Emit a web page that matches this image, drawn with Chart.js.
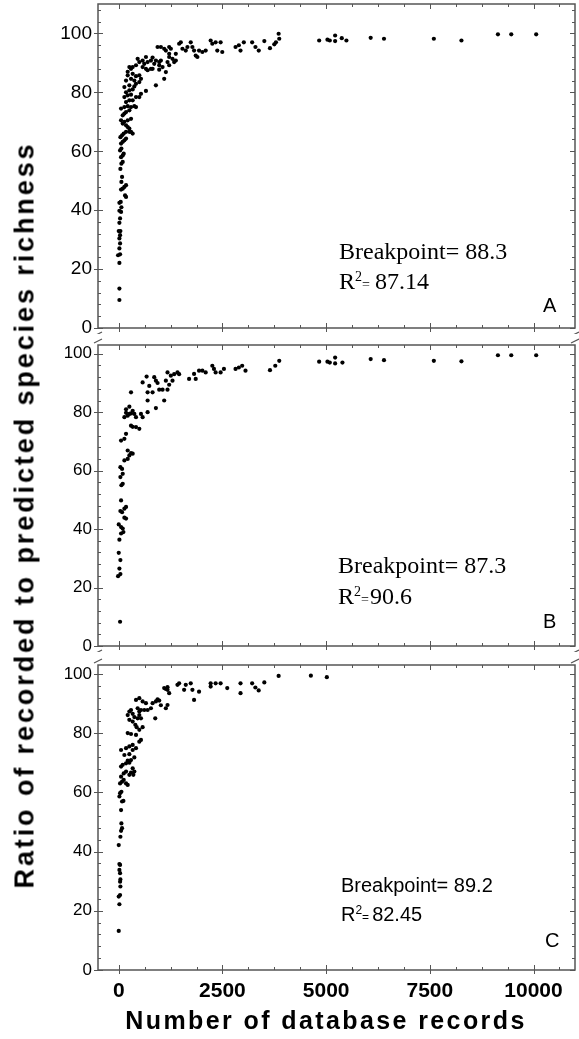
<!DOCTYPE html>
<html>
<head>
<meta charset="utf-8">
<script src="https://cdn.jsdelivr.net/npm/chart.js@4.4.0/dist/chart.umd.min.js"></script>
<style>
  body { margin: 0; background: #fff; }
  #wrap { position: relative; width: 579px; height: 1039px; overflow: hidden; }
  #wrap canvas { position: absolute; left: 0; }
  #ytitle {
    position: absolute; left: 25px; top: 515px;
    transform: translate(-50%, -50%) rotate(-90deg);
    white-space: nowrap; font: bold 27px "Liberation Sans", Arial, sans-serif;
    letter-spacing: 2.9px;
  }
  #xtitle {
    position: absolute; left: 326px; top: 1020px;
    transform: translate(-50%, -50%);
    white-space: nowrap; font: bold 25px "Liberation Sans", Arial, sans-serif;
    letter-spacing: 2.4px;
  }
</style>
</head>
<body>
<div id="wrap">
  <canvas id="chartA" width="579" height="334" style="top:0"></canvas>
  <canvas id="chartB" width="579" height="316" style="top:336px"></canvas>
  <canvas id="chartC" width="579" height="383" style="top:656px"></canvas>
  <div id="ytitle">Ratio of recorded to predicted species richness</div>
  <div id="xtitle">Number of database records</div>
</div>
<script>
// Panel A
const recordsA = [16,16,16,-16,32,16,32,16,32,0,40,16,32,56,16,64,16,48,176,152,136,176,56,96,64,80,40,64,96,56,96,120,32,64,56,96,136,176,40,80,120,176,256,296,336,256,216,176,96,136,56,216,296,96,136,176,256,56,136,216,296,376,416,176,256,336,136,216,296,416,496,176,256,336,536,656,136,256,376,416,496,176,296,376,536,216,336,496,416,216,296,256,336,696,816,976,1056,896,1136,1096,456,576,656,776,816,896,496,616,696,856,976,1016,416,576,656,776,976,1216,936,1016,1096,1136,1216,1256,1216,1216,1296,1336,1376,1176,1376,1456,1496,1536,1616,1656,1736,1776,1816,1856,1896,1936,2016,2096,2216,2256,2336,2376,2456,2496,2816,2896,2936,3016,3216,3296,3376,3510,3646,3750,3790,3855,3870,4832,5032,5088,5217,5217,5377,5489,6074,6395,7597,8262,9142,9463,10064];
const ratioA = [9.5,13.4,22.1,24.7,25,27,28.7,30.4,31.5,32.9,32.9,35.7,37.2,39.4,39.8,41,42.5,42.8,44.5,45,47.9,48.5,47,47.3,49.6,51.3,54,55.8,56.4,58,58.6,59.2,60.3,60.9,62.6,63.2,63.7,64.3,64.8,65.4,66,66.6,66.6,66.6,66,67.7,68.2,68.8,69.4,70,70.5,70.5,71,72.2,72.8,73.3,73.9,74.5,75,75.3,75,75.3,75,76.7,77.3,77.3,78.4,79,79.2,78.4,78.4,80,80.7,81,79.5,80.5,81.8,82.4,82,82.9,83.5,84,84.6,84,84.6,85.8,86.3,85.8,85.5,87,88,88.6,88.6,87.5,88,87.7,88.6,82.4,86.9,84.6,91.4,90.8,92,90.8,91.8,90.8,90.3,89.7,90.3,89.7,90.3,90.8,89.2,88.6,88,88,89.2,89.2,95.4,95.4,94.8,94.2,95.4,94.8,93.1,92,91.4,90.3,90.8,90.3,93.1,96.5,97,94.8,94.2,95.4,97,95.4,94.2,92.5,92,94.2,93.7,94.2,97.6,96.5,97,94.2,97,93.7,95.4,96,94.2,97,97,95.4,94.2,97.4,95,96.3,97,99.9,98.2,97.6,97.9,97.6,99.3,97.4,98.4,97.6,98.5,98.2,98.2,97.6,99.7,99.7,99.7];

// Panel B
const recordsB = [32,-16,40,16,40,0,16,56,112,0,56,96,80,40,136,176,176,136,56,64,96,40,96,80,40,136,216,256,296,216,336,56,136,176,136,216,256,296,176,376,176,256,336,416,576,536,296,336,416,496,296,576,672,696,696,736,816,856,896,896,936,976,1056,1096,1136,1176,1216,1176,1256,1296,1336,1416,1456,696,1696,1816,1856,1936,2016,2096,2256,2296,2336,2456,2536,2816,2896,2976,3056,3646,3774,3870,4832,5032,5088,5217,5217,5393,6074,6395,7597,8262,9142,9463,10064];
const ratioB = [8.3,23.9,24.6,26.5,29.4,31.9,36.4,38.5,39,41.6,40.7,40.2,45.8,46.2,47,47.6,43.6,43.9,49.8,55,55.5,57.8,58.9,60.6,61.2,63.5,64,65.2,66,66.9,65.8,70.3,70.9,72.6,78.3,78.8,79.4,79.6,79.8,79.4,81,81.9,80.5,78.3,78.3,79.4,75.4,75,74.9,74.3,86.8,90.2,92.2,86.8,84,89,86.8,92,90.8,81.4,90,87.7,87.7,84,90.8,87.7,89.4,93.6,92.5,90.8,93,93.6,93,80,91.4,93.1,91.4,94.2,94.2,93.6,95.9,94.8,93.6,93.6,94.8,94.8,95.3,95.9,94.2,94.4,95.9,97.6,97.3,97.3,97,98.7,96.7,97,98.2,97.8,97.6,97.4,99.5,99.5,99.5];

// Panel C
const recordsC = [0,16,0,32,40,32,40,32,16,16,32,0,40,56,80,64,56,80,112,16,32,64,32,80,120,176,216,56,120,176,256,296,352,376,336,56,96,176,256,216,296,376,136,256,336,416,56,176,496,536,336,256,216,296,416,496,432,400,576,336,256,376,456,496,536,336,216,256,296,456,496,536,416,496,576,656,616,696,776,816,896,936,976,880,1016,1096,1176,1136,1176,1136,1176,1216,1416,1456,1576,1616,1736,1776,1816,1936,2216,2216,2336,2456,2616,2936,2936,3216,3294,3374,3510,3855,4632,5017];
const ratioC = [13.2,22.2,24.8,25.3,28.2,29.8,30.6,32.7,33.8,35.8,35.5,42.2,45,47,47.9,49.5,54,56.9,57.1,58.6,59.7,60.2,63,63.6,64.2,63,62.5,65.3,66.4,67,65.9,66.7,65.9,67,68.1,68.7,69.3,69.8,70,70.7,70.9,71.8,72.6,72.9,74.3,74.9,74.3,74.9,77.1,77.7,76,75.5,80,79.7,79.4,81.1,82,82.8,82,83.9,84.5,85.4,85,86.1,85,86.5,86.1,87.3,87.8,88.4,87.3,87.8,91.2,91.8,90.7,90.1,87.8,87.8,88.4,90.1,90.7,91.4,91,85,89.4,95.2,95.5,94.9,94.6,88.4,89.5,93.5,96.3,96.8,94.6,96.3,96.8,94.6,91.2,94,96.8,95.7,96.8,96.8,95.2,96.8,93.5,96.8,95.4,94.4,97.1,99.3,99.4,98.9];

const xTicks = [0, 2500, 5000, 7500, 10000];
const yTicks = [0, 20, 40, 60, 80, 100];

const SANS = '"Liberation Sans", Arial, sans-serif';
const SERIF = '"Liberation Serif", "Times New Roman", serif';
const FRAME = '#555';

function line(ctx, x1, y1, x2, y2) {
  ctx.beginPath(); ctx.moveTo(x1, y1); ctx.lineTo(x2, y2); ctx.stroke();
}

// frame, inward ticks on all four sides, axis breaks, panel notes
const axesFrame = {
  id: 'axesFrame',
  afterDraw(chart, args, o) {
    const { ctx, chartArea: a, scales: { x, y } } = chart;
    ctx.save();
    ctx.strokeStyle = FRAME;
    ctx.lineWidth = 1.5;
    ctx.strokeRect(a.left, a.top, a.right - a.left, a.bottom - a.top);
    ctx.lineWidth = 1;
    for (let v = 0; v <= x.max; v += 625) {
      const px = Math.round(x.getPixelForValue(v)) + 0.5;
      const major = xTicks.includes(v);
      const len = major ? 5 : 3;
      line(ctx, px, a.bottom, px, a.bottom - len);
      line(ctx, px, a.top, px, a.top + len);
      if (major) line(ctx, px, a.bottom, px, a.bottom + 4);
    }
    for (let v = 0; v <= y.max; v += 4) {
      const py = Math.round(y.getPixelForValue(v)) + 0.5;
      const major = yTicks.includes(v);
      const len = major ? 5 : 3;
      line(ctx, a.left, py, a.left + len, py);
      line(ctx, a.right, py, a.right - len, py);
      if (major) line(ctx, a.left, py, a.left - 4, py);
    }
    // axis break marks
    ctx.lineWidth = 1.2;
    [a.left, a.right].forEach(ex => {
      if (o.breakBottom) line(ctx, ex - 4, a.bottom + 8, ex + 4, a.bottom + 4);
      if (o.breakTop) line(ctx, ex - 4, a.top - 2, ex + 4, a.top - 6);
    });
    // annotations
    ctx.fillStyle = '#000';
    ctx.textBaseline = 'alphabetic';
    const n = o.note;
    ctx.font = `${n.size}px ${n.family}`;
    ctx.fillText(n.breakpoint, n.x, n.y1);
    let w = 0;
    ctx.fillText('R', n.x, n.y2); w += ctx.measureText('R').width;
    ctx.font = `${Math.round(n.size * 0.6)}px ${n.family}`;
    ctx.fillText('2', n.x + w, n.y2 - n.size * 0.33); w += ctx.measureText('2').width;
    ctx.fillText('=', n.x + w, n.y2); w += ctx.measureText('=').width + n.gap;
    ctx.font = `${n.size}px ${n.family}`;
    ctx.fillText(n.r2, n.x + w, n.y2);
    ctx.font = `20px ${SANS}`;
    ctx.fillText(n.letter, n.lx, n.ly);
    ctx.restore();
  }
};

function noPad(s) {
  s.paddingTop = 0; s.paddingBottom = 0; s.paddingLeft = 0; s.paddingRight = 0;
}

function makePanel(id, xs, ys, opts) {
  const pts = xs.map((v, i) => ({ x: v, y: ys[i] }));
  return new Chart(document.getElementById(id), {
    type: 'scatter',
    data: {
      datasets: [{
        data: pts,
        backgroundColor: '#000',
        borderColor: '#000',
        pointRadius: 2.1,
        borderWidth: 0
      }]
    },
    options: {
      responsive: false,
      animation: false,
      layout: { padding: { top: opts.padTop, right: 4, left: 0, bottom: 0 } },
      plugins: {
        legend: { display: false },
        tooltip: { enabled: false },
        axesFrame: opts
      },
      scales: {
        x: {
          type: 'linear', min: -500, max: 11000,
          grid: { display: false, drawTicks: false },
          border: { display: false },
          afterBuildTicks: s => { s.ticks = xTicks.map(v => ({ value: v })); },
          ticks: {
            display: opts.showX,
            padding: 9,
            color: '#000',
            font: { family: SANS, size: 21, weight: 'bold' },
            callback: v => String(v)
          },
          afterFit: s => { s.height = opts.xHeight; noPad(s); }
        },
        y: {
          min: 0, max: opts.yMax,
          grid: { display: false, drawTicks: false },
          border: { display: false },
          afterBuildTicks: s => { s.ticks = yTicks.map(v => ({ value: v })); },
          ticks: {
            padding: 6,
            color: '#000',
            font: { family: SANS, size: opts.ySize }
          },
          afterFit: s => { s.width = 98; noPad(s); }
        }
      }
    },
    plugins: [axesFrame]
  });
}

makePanel('chartA', recordsA, ratioA, {
  padTop: 4, xHeight: 6, yMax: 110, ySize: 19, showX: false,
  breakBottom: true, breakTop: false,
  note: { family: SERIF, size: 24, x: 339, y1: 259, y2: 289, gap: 5,
          breakpoint: 'Breakpoint= 88.3', r2: '87.14', letter: 'A', lx: 543, ly: 312 }
});
makePanel('chartB', recordsB, ratioB, {
  padTop: 9, xHeight: 6, yMax: 103, ySize: 17, showX: false,
  breakBottom: true, breakTop: true,
  note: { family: SERIF, size: 24, x: 338, y1: 237, y2: 268, gap: 1,
          breakpoint: 'Breakpoint= 87.3', r2: '90.6', letter: 'B', lx: 543, ly: 292 }
});
makePanel('chartC', recordsC, ratioC, {
  padTop: 9, xHeight: 69, yMax: 103, ySize: 17, showX: true,
  breakBottom: false, breakTop: true,
  note: { family: SANS, size: 20, x: 341, y1: 236, y2: 265, gap: 3,
          breakpoint: 'Breakpoint= 89.2', r2: '82.45', letter: 'C', lx: 545, ly: 291 }
});
</script>
</body>
</html>
